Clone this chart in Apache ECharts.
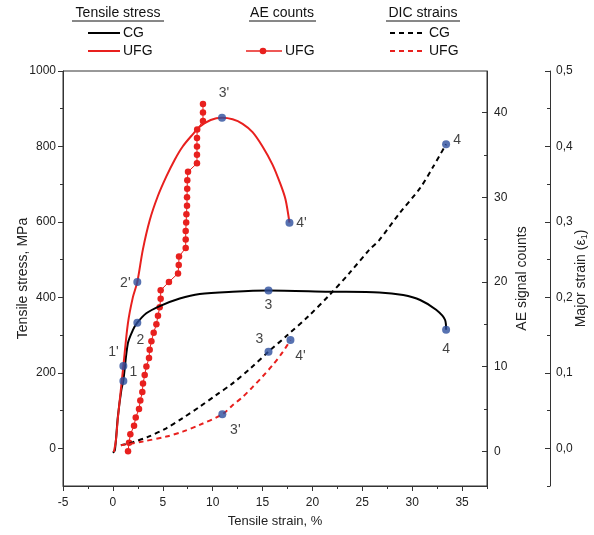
<!DOCTYPE html>
<html><head><meta charset="utf-8">
<script src="https://cdn.jsdelivr.net/npm/echarts@6/dist/echarts.min.js"></script>
<style>html,body{margin:0;padding:0;background:#fff}#c{width:594px;height:535px}</style>
</head><body><div id="c"></div>
<script>
// ---- data ----
const xTicks = [-5, 0, 5, 10, 15, 20, 25, 30, 35];
const stressTicks = [0, 200, 400, 600, 800, 1000];
const aeTicks = [0, 10, 20, 30, 40];
const strainTicks = [0.0, 0.1, 0.2, 0.3, 0.4, 0.5];

const cgStress = [[0.0,-12],[0.2,-5],[0.5,84],[0.85,155],[1.05,180],[1.5,278],[2.0,313],[2.45,333],[3.35,358],[4.7,377],[6.7,397],[8.7,409],[12.0,415],[15.6,418],[21.7,415],[26.7,413],[29.1,406],[30.8,393],[32.4,367],[33.3,340],[33.4,314]];
const ufgStress = [[0.1,-10],[0.3,20],[0.5,80],[0.7,130],[1.05,218],[1.5,330],[2.0,400],[2.45,441],[3.0,526],[3.7,605],[4.5,668],[5.35,720],[6.2,765],[7.0,800],[8.0,832],[8.7,852],[9.8,870],[10.94,876],[12.0,872],[13.0,860],[14.0,838],[15.0,800],[16.0,752],[16.8,700],[17.3,660],[17.7,598]];

const aeStrain = [1.52,1.62,1.75,2.12,2.29,2.62,2.75,2.95,3.02,3.19,3.36,3.62,3.69,3.86,4.09,4.36,4.52,4.69,4.79,4.79,5.62,6.53,6.6,6.63,7.3,7.3,7.3,7.35,7.37,7.43,7.43,7.45,7.46,7.53,8.43,8.43,8.43,8.43,8.45,9.03,9.03,9.03];
const aeCounts = [0,1,2,3,4,5,6,7,8,9,10,11,12,13,14,15,16,17,18,19,20,21,22,23,24,25,26,27,28,29,30,31,32,33,34,35,36,37,38,39,40,41];

const cgDic = [[0.8,0.004],[2.0,0.008],[3.5,0.015],[5.35,0.0265],[7.0,0.04],[8.7,0.055],[10.3,0.07],[12.0,0.086],[13.8,0.106],[15.6,0.128],[17.5,0.15],[19.6,0.175],[21.7,0.203],[23.7,0.232],[25.7,0.263],[26.7,0.276],[28.7,0.311],[30.8,0.345],[32.1,0.373],[33.4,0.403]];
const ufgDic = [[0.8,0.004],[3.0,0.009],[5.35,0.0155],[7.0,0.022],[8.7,0.031],[10.97,0.045],[12.0,0.057],[13.0,0.068],[14.0,0.081],[15.0,0.095],[16.0,0.11],[17.0,0.127],[17.8,0.1435]];

const stressPtNames = ['1', "1'", '2', "2'", '3', "3'", '4', "4'"];
const stressPtX = [1.05, 1.05, 2.45, 2.45, 15.6, 10.94, 33.4, 17.7];
const stressPtY = [178, 218, 333, 441, 418, 876, 314, 598];
const dicPtNames = ['3', "3'", '4', "4'"];
const dicPtX = [15.6, 10.97, 33.4, 17.8];
const dicPtY = [0.128, 0.045, 0.403, 0.1435];

// ---- presentation ----
const FONT = 'Liberation Sans';
const RED = '#e8201e', BLUE = '#2d4f9e', AX = '#333';
const stressLblOff = [[10,-9],[-10,-14],[3,17],[-12,1],[0,15],[2,-25],[0,19],[12,0]];
const dicLblOff = [[-9,-13],[13,16],[11,-4],[10,16]];

function minorVals(a, b, step) { const r = []; for (let v = a; v <= b + 1e-9; v += step) r.push(+v.toFixed(4)); return r; }
const fmtComma = v => v.toFixed(1).replace('.', ',');
const fmtPlain = v => String(v);

const chart = echarts.init(document.getElementById('c'), null, {renderer: 'canvas'});
const tickLbl = {color: '#222', fontFamily: FONT, fontSize: 12};
const nameSty = {color: '#222', fontFamily: FONT, fontSize: 13};
const vNameSty = {color: '#222', fontFamily: FONT, fontSize: 14};

function minorAxis(base, vals, extra) {
  const inside = !!(extra && extra.inside);
  const ax = {type: 'value', min: base.min, max: base.max, axisLine: {show: false, onZero: false}, splitLine: {show: false},
    axisLabel: {show: false}, axisTick: {show: true, inside: inside, length: 3, customValues: vals, lineStyle: {color: AX}}};
  if (extra) { if (extra.position) ax.position = extra.position; if (extra.offset) ax.offset = extra.offset; }
  return ax;
}

const option = {
  animation: false,
  backgroundColor: '#fff',
  grid: {left: 63, right: 107, top: 71, bottom: 49, containLabel: false, outerBoundsMode: 'none', show: true, borderColor: AX, borderWidth: 1},
  xAxis: [
    {type: 'value', min: -5, max: 37.5, position: 'bottom', name: 'Tensile strain, %', nameLocation: 'middle', nameGap: 29,
     nameTextStyle: nameSty, axisLine: {show: true, onZero: false, lineStyle: {color: AX}}, splitLine: {show: false},
     axisTick: {show: true, length: 5, customValues: xTicks, lineStyle: {color: AX}},
     axisLabel: Object.assign({customValues: xTicks, margin: 11, formatter: fmtPlain}, tickLbl)},
    minorAxis({min: -5, max: 37.5}, minorVals(-2.5, 37.5, 5), {position: 'bottom'})
  ],
  yAxis: [
    {type: 'value', min: -100, max: 1000, position: 'left', name: 'Tensile stress, MPa', nameLocation: 'middle', nameGap: 33,
     nameMoveOverlap: false,
     nameTextStyle: vNameSty, axisLine: {show: true, onZero: false, lineStyle: {color: AX}}, splitLine: {show: false},
     axisTick: {show: true, length: 5, customValues: stressTicks, lineStyle: {color: AX}},
     axisLabel: Object.assign({customValues: stressTicks, margin: 7, formatter: fmtPlain}, tickLbl)},
    {type: 'value', min: -4.1, max: 44.9, position: 'right', name: 'AE signal counts', nameLocation: 'middle', nameGap: 28,
     nameMoveOverlap: false,
     nameRotate: 90, nameTextStyle: vNameSty, axisLine: {show: true, onZero: false, lineStyle: {color: AX}}, splitLine: {show: false},
     axisTick: {show: true, inside: true, length: 5, customValues: aeTicks, lineStyle: {color: AX}},
     axisLabel: Object.assign({customValues: aeTicks, margin: 7, formatter: fmtPlain}, tickLbl)},
    {type: 'value', min: -0.05, max: 0.5, position: 'right', offset: 63, name: 'Major strain (ε{s|1})', nameLocation: 'middle', nameGap: 24,
     nameMoveOverlap: false,
     nameRotate: 90, nameTextStyle: Object.assign({rich: {s: {fontFamily: FONT, fontSize: 9, color: '#222', verticalAlign: 'bottom', padding: [6,0,0,0]}}}, vNameSty),
     axisLine: {show: true, onZero: false, lineStyle: {color: AX}}, splitLine: {show: false},
     axisTick: {show: true, inside: true, length: 5, customValues: strainTicks, lineStyle: {color: AX}},
     axisLabel: Object.assign({customValues: strainTicks, margin: 6, formatter: fmtComma}, tickLbl)},
    minorAxis({min: -100, max: 1000}, minorVals(100, 900, 200), {position: 'left'}),
    minorAxis({min: -4.1, max: 44.9}, minorVals(5, 35, 10), {position: 'right', inside: true}),
    minorAxis({min: -0.05, max: 0.5}, minorVals(-0.05, 0.45, 0.1), {position: 'right', offset: 63, inside: true})
  ],
  series: [
    {type: 'line', name: 'CG stress', xAxisIndex: 0, yAxisIndex: 0, data: cgStress, smooth: 0.3, showSymbol: false,
     lineStyle: {color: '#000', width: 2}, z: 3},
    {type: 'line', name: 'UFG stress', xAxisIndex: 0, yAxisIndex: 0, data: ufgStress, smooth: 0.3, showSymbol: false,
     lineStyle: {color: RED, width: 2}, z: 3},
    {type: 'line', name: 'AE UFG', xAxisIndex: 0, yAxisIndex: 1, data: aeStrain.map((x, i) => [x, aeCounts[i]]),
     symbol: 'circle', symbolSize: 6.5, showSymbol: true, itemStyle: {color: RED}, lineStyle: {color: RED, width: 1}, z: 2},
    {type: 'line', name: 'DIC CG', xAxisIndex: 0, yAxisIndex: 2, data: cgDic, smooth: 0.3, showSymbol: false,
     lineStyle: {color: '#000', width: 2, type: [5, 4]}, z: 3},
    {type: 'line', name: 'DIC UFG', xAxisIndex: 0, yAxisIndex: 2, data: ufgDic, smooth: 0.3, showSymbol: false,
     lineStyle: {color: RED, width: 2, type: [5, 4]}, z: 3},
    {type: 'scatter', xAxisIndex: 0, yAxisIndex: 0, symbolSize: 8, itemStyle: {color: BLUE}, z: 5,
     data: stressPtX.map((x, i) => ({value: [x, stressPtY[i]], name: stressPtNames[i],
       label: {show: true, position: 'inside', offset: stressLblOff[i], formatter: '{b}', color: '#111', fontFamily: FONT, fontSize: 14}}))},
    {type: 'scatter', xAxisIndex: 0, yAxisIndex: 2, symbolSize: 8, itemStyle: {color: BLUE}, z: 5,
     data: dicPtX.map((x, i) => ({value: [x, dicPtY[i]], name: dicPtNames[i],
       label: {show: true, position: 'inside', offset: dicLblOff[i], formatter: '{b}', color: '#111', fontFamily: FONT, fontSize: 14}}))}
  ],
  graphic: [
    {type: 'text', style: {text: 'Tensile stress', x: 118, y: 13, align: 'center', verticalAlign: 'middle', font: '14px "Liberation Sans"', fill: '#111'}},
    {type: 'line', shape: {x1: 72, y1: 21, x2: 164, y2: 21}, style: {stroke: '#111', lineWidth: 1}},
    {type: 'text', style: {text: 'AE counts', x: 282, y: 13, align: 'center', verticalAlign: 'middle', font: '14px "Liberation Sans"', fill: '#111'}},
    {type: 'line', shape: {x1: 249, y1: 21, x2: 316, y2: 21}, style: {stroke: '#111', lineWidth: 1}},
    {type: 'text', style: {text: 'DIC strains', x: 423, y: 13, align: 'center', verticalAlign: 'middle', font: '14px "Liberation Sans"', fill: '#111'}},
    {type: 'line', shape: {x1: 386, y1: 21, x2: 460, y2: 21}, style: {stroke: '#111', lineWidth: 1}},
    {type: 'line', shape: {x1: 88, y1: 33, x2: 120, y2: 33}, style: {stroke: '#000', lineWidth: 2}},
    {type: 'text', style: {text: 'CG', x: 123, y: 33, verticalAlign: 'middle', font: '14px "Liberation Sans"', fill: '#111'}},
    {type: 'line', shape: {x1: 88, y1: 51, x2: 120, y2: 51}, style: {stroke: RED, lineWidth: 2}},
    {type: 'text', style: {text: 'UFG', x: 123, y: 51, verticalAlign: 'middle', font: '14px "Liberation Sans"', fill: '#111'}},
    {type: 'line', shape: {x1: 246, y1: 51, x2: 282, y2: 51}, style: {stroke: RED, lineWidth: 1.5}},
    {type: 'circle', shape: {cx: 263, cy: 51, r: 3.3}, style: {fill: RED}},
    {type: 'text', style: {text: 'UFG', x: 285, y: 51, verticalAlign: 'middle', font: '14px "Liberation Sans"', fill: '#111'}},
    {type: 'line', shape: {x1: 390, y1: 33, x2: 424, y2: 33}, style: {stroke: '#000', lineWidth: 2, lineDash: [5, 4]}},
    {type: 'text', style: {text: 'CG', x: 429, y: 33, verticalAlign: 'middle', font: '14px "Liberation Sans"', fill: '#111'}},
    {type: 'line', shape: {x1: 390, y1: 51, x2: 424, y2: 51}, style: {stroke: RED, lineWidth: 2, lineDash: [5, 4]}},
    {type: 'text', style: {text: 'UFG', x: 429, y: 51, verticalAlign: 'middle', font: '14px "Liberation Sans"', fill: '#111'}}
  ]
};
chart.setOption(option);
</script></body></html>
